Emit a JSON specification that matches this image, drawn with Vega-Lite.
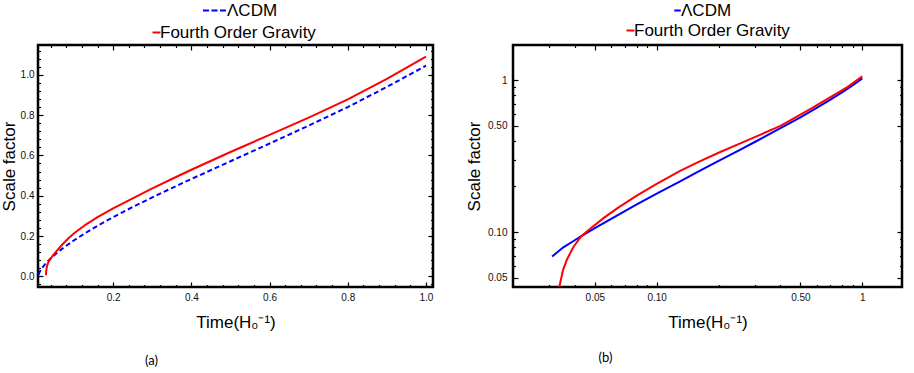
{
  "$schema": "https://vega.github.io/schema/vega-lite/v6.json",
  "padding": {"left": -2, "top": -4, "right": 5, "bottom": 3},
  "bounds": "flush",
  "spacing": 80,
  "resolve": {"scale": {"color": "independent"}, "legend": {"color": "independent"}},
  "datasets": {
    "a": [
      {"t": 0.009, "a": 0.009, "model": "ΛCDM"},
      {"t": 0.012, "a": 0.022, "model": "ΛCDM"},
      {"t": 0.016, "a": 0.035, "model": "ΛCDM"},
      {"t": 0.02, "a": 0.046, "model": "ΛCDM"},
      {"t": 0.025, "a": 0.058, "model": "ΛCDM"},
      {"t": 0.031, "a": 0.071, "model": "ΛCDM"},
      {"t": 0.04, "a": 0.088, "model": "ΛCDM"},
      {"t": 0.05, "a": 0.106, "model": "ΛCDM"},
      {"t": 0.065, "a": 0.13, "model": "ΛCDM"},
      {"t": 0.08, "a": 0.152, "model": "ΛCDM"},
      {"t": 0.1, "a": 0.179, "model": "ΛCDM"},
      {"t": 0.13, "a": 0.216, "model": "ΛCDM"},
      {"t": 0.16, "a": 0.251, "model": "ΛCDM"},
      {"t": 0.2, "a": 0.294, "model": "ΛCDM"},
      {"t": 0.25, "a": 0.344, "model": "ΛCDM"},
      {"t": 0.3, "a": 0.392, "model": "ΛCDM"},
      {"t": 0.35, "a": 0.438, "model": "ΛCDM"},
      {"t": 0.4, "a": 0.483, "model": "ΛCDM"},
      {"t": 0.5, "a": 0.571, "model": "ΛCDM"},
      {"t": 0.6, "a": 0.659, "model": "ΛCDM"},
      {"t": 0.7, "a": 0.748, "model": "ΛCDM"},
      {"t": 0.8, "a": 0.84, "model": "ΛCDM"},
      {"t": 0.9, "a": 0.94, "model": "ΛCDM"},
      {"t": 1.0, "a": 1.045, "model": "ΛCDM"},
      {"t": 0.028, "a": 0.005, "model": "Fourth Order Gravity"},
      {"t": 0.0285, "a": 0.022, "model": "Fourth Order Gravity"},
      {"t": 0.0295, "a": 0.038, "model": "Fourth Order Gravity"},
      {"t": 0.031, "a": 0.052, "model": "Fourth Order Gravity"},
      {"t": 0.033, "a": 0.064, "model": "Fourth Order Gravity"},
      {"t": 0.036, "a": 0.076, "model": "Fourth Order Gravity"},
      {"t": 0.04, "a": 0.088, "model": "Fourth Order Gravity"},
      {"t": 0.045, "a": 0.101, "model": "Fourth Order Gravity"},
      {"t": 0.055, "a": 0.125, "model": "Fourth Order Gravity"},
      {"t": 0.07, "a": 0.158, "model": "Fourth Order Gravity"},
      {"t": 0.085, "a": 0.188, "model": "Fourth Order Gravity"},
      {"t": 0.1, "a": 0.214, "model": "Fourth Order Gravity"},
      {"t": 0.13, "a": 0.257, "model": "Fourth Order Gravity"},
      {"t": 0.16, "a": 0.294, "model": "Fourth Order Gravity"},
      {"t": 0.2, "a": 0.337, "model": "Fourth Order Gravity"},
      {"t": 0.25, "a": 0.387, "model": "Fourth Order Gravity"},
      {"t": 0.3, "a": 0.436, "model": "Fourth Order Gravity"},
      {"t": 0.35, "a": 0.483, "model": "Fourth Order Gravity"},
      {"t": 0.4, "a": 0.529, "model": "Fourth Order Gravity"},
      {"t": 0.5, "a": 0.617, "model": "Fourth Order Gravity"},
      {"t": 0.6, "a": 0.702, "model": "Fourth Order Gravity"},
      {"t": 0.7, "a": 0.788, "model": "Fourth Order Gravity"},
      {"t": 0.8, "a": 0.878, "model": "Fourth Order Gravity"},
      {"t": 0.9, "a": 0.98, "model": "Fourth Order Gravity"},
      {"t": 1.0, "a": 1.09, "model": "Fourth Order Gravity"}
    ],
    "b": [
      {"t": 0.031, "a": 0.069, "model": "ΛCDM"},
      {"t": 0.035, "a": 0.079, "model": "ΛCDM"},
      {"t": 0.0394, "a": 0.0873, "model": "ΛCDM"},
      {"t": 0.043, "a": 0.0939, "model": "ΛCDM"},
      {"t": 0.05, "a": 0.106, "model": "ΛCDM"},
      {"t": 0.065, "a": 0.13, "model": "ΛCDM"},
      {"t": 0.08, "a": 0.152, "model": "ΛCDM"},
      {"t": 0.1, "a": 0.179, "model": "ΛCDM"},
      {"t": 0.13, "a": 0.216, "model": "ΛCDM"},
      {"t": 0.16, "a": 0.251, "model": "ΛCDM"},
      {"t": 0.2, "a": 0.294, "model": "ΛCDM"},
      {"t": 0.25, "a": 0.344, "model": "ΛCDM"},
      {"t": 0.3, "a": 0.392, "model": "ΛCDM"},
      {"t": 0.4, "a": 0.483, "model": "ΛCDM"},
      {"t": 0.5, "a": 0.57, "model": "ΛCDM"},
      {"t": 0.6, "a": 0.657, "model": "ΛCDM"},
      {"t": 0.7, "a": 0.745, "model": "ΛCDM"},
      {"t": 0.8, "a": 0.835, "model": "ΛCDM"},
      {"t": 0.9, "a": 0.929, "model": "ΛCDM"},
      {"t": 1.0, "a": 1.028, "model": "ΛCDM"},
      {"t": 0.0332, "a": 0.035, "model": "Fourth Order Gravity"},
      {"t": 0.0336, "a": 0.0435, "model": "Fourth Order Gravity"},
      {"t": 0.035, "a": 0.056, "model": "Fourth Order Gravity"},
      {"t": 0.0366, "a": 0.066, "model": "Fourth Order Gravity"},
      {"t": 0.0394, "a": 0.08, "model": "Fourth Order Gravity"},
      {"t": 0.043, "a": 0.094, "model": "Fourth Order Gravity"},
      {"t": 0.047, "a": 0.104, "model": "Fourth Order Gravity"},
      {"t": 0.0551, "a": 0.1235, "model": "Fourth Order Gravity"},
      {"t": 0.065, "a": 0.145, "model": "Fourth Order Gravity"},
      {"t": 0.08, "a": 0.174, "model": "Fourth Order Gravity"},
      {"t": 0.1, "a": 0.208, "model": "Fourth Order Gravity"},
      {"t": 0.13, "a": 0.253, "model": "Fourth Order Gravity"},
      {"t": 0.16, "a": 0.29, "model": "Fourth Order Gravity"},
      {"t": 0.2, "a": 0.333, "model": "Fourth Order Gravity"},
      {"t": 0.25, "a": 0.38, "model": "Fourth Order Gravity"},
      {"t": 0.318, "a": 0.437, "model": "Fourth Order Gravity"},
      {"t": 0.4, "a": 0.5, "model": "Fourth Order Gravity"},
      {"t": 0.555, "a": 0.643, "model": "Fourth Order Gravity"},
      {"t": 0.7, "a": 0.775, "model": "Fourth Order Gravity"},
      {"t": 0.85, "a": 0.905, "model": "Fourth Order Gravity"},
      {"t": 1.0, "a": 1.06, "model": "Fourth Order Gravity"}
    ]
  },
  "hconcat": [
    {
      "width": 395,
      "height": 242,
      "title": {"text": "(a)", "orient": "bottom", "anchor": "start", "dx": 145, "offset": 25},
      "data": {"name": "a"},
      "layer": [
        {
          "transform": [{"filter": "datum.model === 'ΛCDM'"}],
          "mark": {"type": "line", "strokeWidth": 2, "strokeDash": [5, 3], "clip": true},
          "encoding": {
            "x": {"field": "t", "type": "quantitative",
              "scale": {"domain": [0.0077, 1.018], "nice": false, "zero": false},
              "axis": {"orient": "bottom", "title": "Time(H₀⁻¹)", "titlePadding": 12, "labelPadding": 10, "tickSize": -5,
                "values": [0.2, 0.4, 0.6, 0.8, 1.0], "format": ".1f"}},
            "y": {"field": "a", "type": "quantitative",
              "scale": {"domain": [-0.053, 1.148], "nice": false, "zero": false},
              "axis": {"orient": "left", "title": "Scale factor", "titlePadding": 2, "labelPadding": 9, "tickSize": -5,
                "values": [0, 0.2, 0.4, 0.6, 0.8, 1.0], "format": ".1f"}},
            "color": {"field": "model", "type": "nominal",
              "scale": {"domain": ["ΛCDM"], "range": ["#0000ff"]},
              "legend": {"orient": "none", "legendX": 164, "legendY": -47, "title": null,
                "symbolType": "stroke", "symbolSize": 529, "symbolStrokeWidth": 2, "symbolDash": [6, 2.5],
                "labelOffset": 0, "labelLimit": 400, "labelFontSize": 17, "labelFont": "Liberation Sans", "labelColor": "black", "padding": 0}}
          }
        },
        {
          "transform": [{"filter": "datum.model === 'Fourth Order Gravity'"}],
          "mark": {"type": "line", "strokeWidth": 2, "clip": true},
          "encoding": {
            "x": {"field": "t", "type": "quantitative",
              "scale": {"domain": [0.0077, 1.018], "nice": false, "zero": false},
              "axis": {"orient": "top", "title": null, "labels": false, "tickSize": -5, "values": [0.2, 0.4, 0.6, 0.8, 1.0]}},
            "y": {"field": "a", "type": "quantitative",
              "scale": {"domain": [-0.053, 1.148], "nice": false, "zero": false},
              "axis": {"orient": "right", "title": null, "labels": false, "tickSize": -5, "values": [0, 0.2, 0.4, 0.6, 0.8, 1.0]}},
            "color": {"field": "model", "type": "nominal",
              "scale": {"domain": ["Fourth Order Gravity"], "range": ["#ff0000"]},
              "legend": {"orient": "none", "legendX": 110, "legendY": -21, "title": null,
                "symbolType": "stroke", "symbolSize": 64, "symbolStrokeWidth": 2,
                "labelOffset": -5, "labelLimit": 400, "labelFontSize": 17, "labelFont": "Liberation Sans", "labelColor": "black", "padding": 0}}
          }
        },
        {
          "transform": [{"filter": "false"}],
          "mark": {"type": "point"},
          "encoding": {
            "x": {"field": "t", "type": "quantitative",
              "scale": {"domain": [0.0077, 1.018], "nice": false, "zero": false},
              "axis": {"orient": "bottom", "title": null, "labels": false, "tickSize": -2.5,
                "values": [0.04, 0.08, 0.12, 0.16, 0.24, 0.28, 0.32, 0.36, 0.44, 0.48, 0.52, 0.56, 0.64, 0.68, 0.72, 0.76, 0.84, 0.88, 0.92, 0.96]}},
            "y": {"field": "a", "type": "quantitative",
              "scale": {"domain": [-0.053, 1.148], "nice": false, "zero": false},
              "axis": {"orient": "left", "title": null, "labels": false, "tickSize": -2.5,
                "values": [-0.04, 0.04, 0.08, 0.12, 0.16, 0.24, 0.28, 0.32, 0.36, 0.44, 0.48, 0.52, 0.56, 0.64, 0.68, 0.72, 0.76, 0.84, 0.88, 0.92, 0.96, 1.04, 1.08, 1.12]}}
          }
        },
        {
          "transform": [{"filter": "false"}],
          "mark": {"type": "point"},
          "encoding": {
            "x": {"field": "t", "type": "quantitative",
              "scale": {"domain": [0.0077, 1.018], "nice": false, "zero": false},
              "axis": {"orient": "top", "title": null, "labels": false, "tickSize": -2.5,
                "values": [0.04, 0.08, 0.12, 0.16, 0.24, 0.28, 0.32, 0.36, 0.44, 0.48, 0.52, 0.56, 0.64, 0.68, 0.72, 0.76, 0.84, 0.88, 0.92, 0.96]}},
            "y": {"field": "a", "type": "quantitative",
              "scale": {"domain": [-0.053, 1.148], "nice": false, "zero": false},
              "axis": {"orient": "right", "title": null, "labels": false, "tickSize": -2.5,
                "values": [-0.04, 0.04, 0.08, 0.12, 0.16, 0.24, 0.28, 0.32, 0.36, 0.44, 0.48, 0.52, 0.56, 0.64, 0.68, 0.72, 0.76, 0.84, 0.88, 0.92, 0.96, 1.04, 1.08, 1.12]}}
          }
        }
      ],
      "resolve": {"axis": {"x": "independent", "y": "independent"}, "scale": {"color": "independent"}, "legend": {"color": "independent"}}
    },
    {
      "width": 389,
      "height": 242,
      "title": {"text": "(b)", "orient": "bottom", "anchor": "start", "dx": 133, "offset": 22},
      "data": {"name": "b"},
      "layer": [
        {
          "transform": [{"filter": "datum.model === 'ΛCDM'"}],
          "mark": {"type": "line", "strokeWidth": 2, "clip": true},
          "encoding": {
            "x": {"field": "t", "type": "quantitative",
              "scale": {"type": "log", "domain": [0.02, 1.56], "nice": false},
              "axis": {"orient": "bottom", "title": "Time(H₀⁻¹)", "titlePadding": 12, "labelPadding": 10, "tickSize": -5,
                "values": [0.05, 0.1, 0.5, 1],
                "labelExpr": "datum.value == 1 ? '1' : format(datum.value,'.2f')"}},
            "y": {"field": "a", "type": "quantitative",
              "scale": {"type": "log", "domain": [0.04346, 1.707], "nice": false},
              "axis": {"orient": "left", "title": "Scale factor", "titlePadding": 4, "labelPadding": 11, "tickSize": -5,
                "values": [0.05, 0.1, 0.5, 1],
                "labelExpr": "datum.value == 1 ? '1' : format(datum.value,'.2f')"}},
            "color": {"field": "model", "type": "nominal",
              "scale": {"domain": ["ΛCDM"], "range": ["#0000ff"]},
              "legend": {"orient": "none", "legendX": 156, "legendY": -43, "title": null,
                "symbolType": "stroke", "symbolSize": 42, "symbolStrokeWidth": 2,
                "labelOffset": -5, "labelLimit": 400, "labelFontSize": 17, "labelFont": "Liberation Sans", "labelColor": "black", "padding": 0}}
          }
        },
        {
          "transform": [{"filter": "datum.model === 'Fourth Order Gravity'"}],
          "mark": {"type": "line", "strokeWidth": 2, "clip": true},
          "encoding": {
            "x": {"field": "t", "type": "quantitative",
              "scale": {"type": "log", "domain": [0.02, 1.56], "nice": false},
              "axis": {"orient": "top", "title": null, "labels": false, "tickSize": -5, "values": [0.05, 0.1, 0.5, 1]}},
            "y": {"field": "a", "type": "quantitative",
              "scale": {"type": "log", "domain": [0.04346, 1.707], "nice": false},
              "axis": {"orient": "right", "title": null, "labels": false, "tickSize": -5, "values": [0.05, 0.1, 0.5, 1]}},
            "color": {"field": "model", "type": "nominal",
              "scale": {"domain": ["Fourth Order Gravity"], "range": ["#ff0000"]},
              "legend": {"orient": "none", "legendX": 109, "legendY": -23, "title": null,
                "symbolType": "stroke", "symbolSize": 64, "symbolStrokeWidth": 2,
                "labelOffset": -5, "labelLimit": 400, "labelFontSize": 17, "labelFont": "Liberation Sans", "labelColor": "black", "padding": 0}}
          }
        },
        {
          "transform": [{"filter": "false"}],
          "mark": {"type": "point"},
          "encoding": {
            "x": {"field": "t", "type": "quantitative",
              "scale": {"type": "log", "domain": [0.02, 1.56], "nice": false},
              "axis": {"orient": "bottom", "title": null, "labels": false, "tickSize": -2.5,
                "values": [0.03, 0.04, 0.06, 0.07, 0.08, 0.09, 0.2, 0.3, 0.4, 0.6, 0.7, 0.8, 0.9]}},
            "y": {"field": "a", "type": "quantitative",
              "scale": {"type": "log", "domain": [0.04346, 1.707], "nice": false},
              "axis": {"orient": "left", "title": null, "labels": false, "tickSize": -2.5,
                "values": [0.06, 0.07, 0.08, 0.09, 0.2, 0.3, 0.4, 0.6, 0.7, 0.8, 0.9]}}
          }
        },
        {
          "transform": [{"filter": "false"}],
          "mark": {"type": "point"},
          "encoding": {
            "x": {"field": "t", "type": "quantitative",
              "scale": {"type": "log", "domain": [0.02, 1.56], "nice": false},
              "axis": {"orient": "top", "title": null, "labels": false, "tickSize": -2.5,
                "values": [0.03, 0.04, 0.06, 0.07, 0.08, 0.09, 0.2, 0.3, 0.4, 0.6, 0.7, 0.8, 0.9]}},
            "y": {"field": "a", "type": "quantitative",
              "scale": {"type": "log", "domain": [0.04346, 1.707], "nice": false},
              "axis": {"orient": "right", "title": null, "labels": false, "tickSize": -2.5,
                "values": [0.06, 0.07, 0.08, 0.09, 0.2, 0.3, 0.4, 0.6, 0.7, 0.8, 0.9]}}
          }
        }
      ],
      "resolve": {"axis": {"x": "independent", "y": "independent"}, "scale": {"color": "independent"}, "legend": {"color": "independent"}}
    }
  ],
  "config": {
    "background": "white",
    "view": {"stroke": "black", "strokeWidth": 2.5},
    "axis": {"domain": false, "grid": false, "tickColor": "black", "tickWidth": 1.2,
      "labelFont": "Liberation Sans", "labelFontSize": 10, "labelColor": "#111111",
      "titleFont": "Liberation Sans", "titleFontSize": 17, "titleFontWeight": "normal", "titleColor": "black",
      "labelFlush": false, "labelOverlap": false},
    "title": {"font": "Lato", "fontSize": 13, "fontWeight": "normal", "color": "black"}
  }
}
